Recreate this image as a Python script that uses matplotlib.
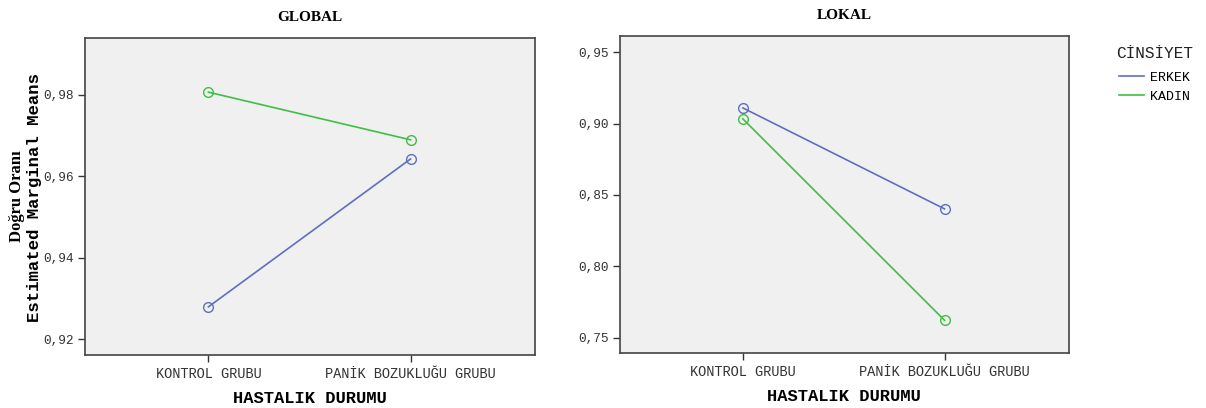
import matplotlib.pyplot as plt
from matplotlib.ticker import FuncFormatter
from matplotlib.lines import Line2D

# Estimated marginal means by group and gender
groups = ["KONTROL GRUBU", "PANİK BOZUKLUĞU GRUBU"]
global_erkek = [0.928, 0.9643]
global_kadin = [0.9807, 0.969]
lokal_erkek = [0.911, 0.8402]
lokal_kadin = [0.9033, 0.7621]

blue = "#5f6fc0"
green = "#3fbf45"
mono = "Liberation Mono"
serif = "Liberation Serif"

fig = plt.figure(figsize=(12.06, 4.08), dpi=100)
ax1 = fig.add_axes([0.0705, 0.130, 0.373, 0.777])
ax2 = fig.add_axes([0.514, 0.135, 0.372, 0.777])

comma = FuncFormatter(lambda v, p: f"{v:.2f}".replace(".", ","))


def draw(ax, erkek, kadin, title, ylim, yticks):
    x = range(len(groups))
    ax.set_facecolor("#f0f0f0")
    ax.plot(x, erkek, color=blue, lw=1.2, marker="o", ms=7,
            mfc="none", mec=blue, mew=1.0)
    ax.plot(x, kadin, color=green, lw=1.2, marker="o", ms=7,
            mfc="none", mec=green, mew=1.0)
    ax.set_xlim(-0.61, 1.615)
    ax.set_ylim(*ylim)
    ax.set_yticks(yticks)
    ax.yaxis.set_major_formatter(comma)
    ax.set_xticks(list(x))
    ax.set_xticklabels(groups)
    ax.tick_params(direction="out", length=5, width=1, color="#333333",
                   labelsize=9.8, pad=4)
    ax.tick_params(axis="y", labelsize=9.2, pad=3)
    for lab in ax.get_xticklabels() + ax.get_yticklabels():
        lab.set_fontfamily(mono)
        lab.set_color("#333333")
    for s in ax.spines.values():
        s.set_color("#444444")
        s.set_linewidth(1.2)
    ax.set_title(title, fontfamily=serif, fontweight="bold", fontsize=11,
                 pad=12.5)
    ax.set_xlabel("HASTALIK DURUMU", fontfamily=mono, fontweight="bold",
                  fontsize=12.3, labelpad=7)


draw(ax1, global_erkek, global_kadin, "GLOBAL", (0.9162, 0.994),
     [0.92, 0.94, 0.96, 0.98])
draw(ax2, lokal_erkek, lokal_kadin, "LOKAL", (0.7392, 0.9615),
     [0.75, 0.80, 0.85, 0.90, 0.95])

# two-line y label
fig.text(0.014, 0.52, "Doğru Oranı", rotation=90, ha="center", va="center",
         fontfamily=serif, fontweight="bold", fontsize=12)
fig.text(0.0285, 0.515, "Estimated Marginal Means", rotation=90, ha="center",
         va="center", fontfamily=mono, fontweight="bold", fontsize=12.5)

# legend: title placed separately so it sits above the entries
fig.text(0.9255, 0.87, "CİNSİYET", fontfamily=mono, fontsize=11.5,
         color="#222222", va="center", ha="left")
handles = [Line2D([], [], color=blue, lw=1.2), Line2D([], [], color=green, lw=1.2)]
fig.legend(handles, ["ERKEK", "KADIN"],
           loc="upper left", bbox_to_anchor=(0.918, 0.853), frameon=False,
           prop={"family": mono, "size": 9.5},
           handlelength=1.9, handletextpad=0.45, labelspacing=0.5)

fig.savefig("out.png", dpi=100)
